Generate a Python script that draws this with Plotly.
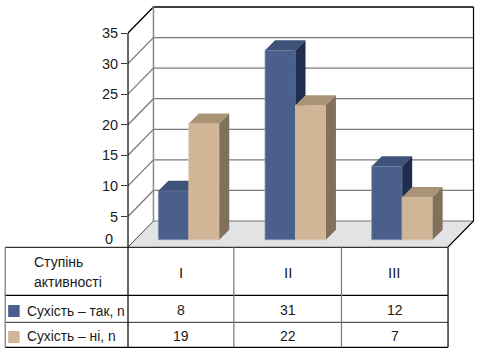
import plotly.graph_objects as go

categories = ["I", "II", "III"]
series_names = ["Сухість – так, n", "Сухість – ні, n"]
yes_values = [8, 31, 12]
no_values = [19, 22, 7]
y_ticks = [0, 5, 10, 15, 20, 25, 30, 35]
row_header = ["Ступінь", "активності"]

W, H = 478, 354
L, R, T, B = 127.5, 448.0, 33.0, 247.0
PLOT_R, PLOT_T = 476.0, 4.0
YMAX = 35
PX = (R - L) / 3
PY = (B - T) / YMAX
XTOP = (PLOT_R - L) / PX
YTOP = (B - PLOT_T) / PY
WALL_X, WALL_Y = 25.5 / PX, 26 / PY
DEPTH_X, DEPTH_Y = 10 / PX, 10 / PY
BAR_W = 30.5 / PX
BASE = 7.3 / PY
SHIFT_X = 7.5 / PX

FONT = "Liberation Sans"
TXT = "#1a1a1a"

def px(v):
    return (v - L) / (PLOT_R - L)

def py(v):
    return (B - v) / (B - PLOT_T)

fig = go.Figure()

def poly(xs, ys, fill, axes=("x", "y"), line=None, width=0):
    fig.add_trace(go.Scatter(
        x=xs, y=ys, mode="lines", fill="toself" if fill else None,
        fillcolor=fill, line=dict(color=line or fill or "rgba(0,0,0,0)", width=width),
        xaxis=axes[0], yaxis=axes[1], hoverinfo="skip", showlegend=False))

# floor
poly([0, 3, 3 + WALL_X, WALL_X, 0], [0, 0, WALL_Y, WALL_Y, 0], "#e2e3e5")

# walls and gridlines
for v in y_ticks:
    if v == 0:
        poly([0, WALL_X], [0, WALL_Y], None, line="#444444", width=1)
        poly([WALL_X, 3 + WALL_X], [WALL_Y, WALL_Y], None, line="#777777", width=1)
    else:
        poly([0, WALL_X, 3 + WALL_X], [v, v + WALL_Y, v + WALL_Y], None,
             line="#000000" if v == 35 else "#7a7a7a", width=1.3)
poly([WALL_X, WALL_X], [WALL_Y, YMAX + WALL_Y], None, line="#8a8a8a", width=1.5)
poly([3 + WALL_X, 3 + WALL_X, 3], [YMAX + WALL_Y, WALL_Y, 0], None, line="#000000", width=1.2)

def add_series(values, offset, front, top, side, axes, edge):
    centers = [i + 0.5 + SHIFT_X + offset * BAR_W for i in range(len(values))]
    fig.add_trace(go.Bar(
        x=centers, y=values, base=BASE, width=BAR_W, xaxis=axes[0], yaxis=axes[1],
        marker=dict(color=front, line=dict(color=edge, width=0.8)),
        hoverinfo="skip", showlegend=False))
    for c, v in zip(centers, values):
        xl, xr, yt, yb = c - BAR_W / 2, c + BAR_W / 2, BASE + v, BASE
        poly([xl, xl + DEPTH_X, xr + DEPTH_X, xr, xl],
             [yt, yt + DEPTH_Y, yt + DEPTH_Y, yt, yt], top, axes)
        poly([xr, xr + DEPTH_X, xr + DEPTH_X, xr, xr],
             [yt, yt + DEPTH_Y, yb + DEPTH_Y, yb, yt], side, axes)

add_series(yes_values, -0.5, "#4a5f8c", "#3f5279", "#1e2d50", ("x2", "y2"), "#7f8fb0")
add_series(no_values, 0.5, "#d1b597", "#aa9478", "#80705c", ("x3", "y3"), "#d8c2aa")

# table geometry
tbl_left = 4.5
tbl_rows = [247.3, 295.3, 322.3, 347.3]
tbl_cols = [L, 233.5, 341.3, R]
shapes = []
def hline(yv, x0, x1, color="#000000", w=1.2):
    shapes.append(dict(type="line", xref="paper", yref="paper", x0=px(x0), x1=px(x1),
                       y0=py(yv), y1=py(yv), line=dict(color=color, width=w)))
def vline(xv, y0, y1, color="#000000", w=1.2):
    shapes.append(dict(type="line", xref="paper", yref="paper", x0=px(xv), x1=px(xv),
                       y0=py(y0), y1=py(y1), line=dict(color=color, width=w)))
vline(L, T, B)  # value axis line
hline(tbl_rows[0], tbl_left, R, "#333333")
hline(tbl_rows[1], tbl_left, R)
hline(tbl_rows[2], tbl_left, R, "#555555")
hline(tbl_rows[3], tbl_left, R)
vline(tbl_left, tbl_rows[0], tbl_rows[3], "#777777")
vline(L, tbl_rows[0], tbl_rows[3])
vline(tbl_cols[1], tbl_rows[0], tbl_rows[3], "#777777")
vline(tbl_cols[2], tbl_rows[0], tbl_rows[3], "#777777")
vline(R, tbl_rows[0], tbl_rows[3])
for y0, col in [(305, "#4a5f8c"), (331, "#d1b597")]:
    shapes.append(dict(type="rect", xref="paper", yref="paper", x0=px(7.5), x1=px(19),
                       y0=py(y0), y1=py(y0 + 12), fillcolor=col, line=dict(width=0)))

def label(text, xv, yv, anchor="center", size=14):
    return dict(text=text, xref="paper", yref="paper", x=px(xv), y=py(yv), xanchor=anchor,
                yanchor="middle", showarrow=False, align="center",
                font=dict(family=FONT, size=size, color=TXT))

ann = [label(row_header[0], 31, 262, "left", 14), label(row_header[1], 31, 282, "left", 14)]
ann.append(label(series_names[0], 24, 311, "left", 13.8))
ann.append(label(series_names[1], 24, 337, "left", 13.8))
centers_px = [(tbl_cols[i] + tbl_cols[i + 1]) / 2 for i in range(3)]
for i, c in enumerate(centers_px):
    ann.append(label(categories[i], c, 272, size=15))
    ann.append(label(str(yes_values[i]), c, 310))
    ann.append(label(str(no_values[i]), c, 336))
ann.append(label(str(y_ticks[0]), 114.5, 239, "right", 14.5))

hidden = dict(visible=False)
fig.update_layout(
    width=W, height=H, autosize=False,
    margin=dict(l=L, r=W - PLOT_R, t=PLOT_T, b=H - B, pad=0),
    paper_bgcolor="white", plot_bgcolor="rgba(0,0,0,0)",
    barmode="overlay", showlegend=False, shapes=shapes, annotations=ann,
    font=dict(family=FONT, size=14.5, color=TXT),
    xaxis=dict(range=[0, XTOP], visible=False, fixedrange=True),
    yaxis=dict(range=[0, YTOP], tickmode="array", tickvals=y_ticks[1:],
               ticktext=[str(v) for v in y_ticks[1:]], ticks="outside", ticklen=6,
               tickcolor="#333333", tickwidth=1, showline=False,
               showgrid=False, zeroline=False, fixedrange=True,
               tickfont=dict(family=FONT, size=14.5, color=TXT)),
    xaxis2=dict(range=[0, XTOP], overlaying="x", anchor="y2", **hidden),
    yaxis2=dict(range=[0, YTOP], overlaying="y", anchor="x2", **hidden),
    xaxis3=dict(range=[0, XTOP], overlaying="x", anchor="y3", **hidden),
    yaxis3=dict(range=[0, YTOP], overlaying="y", anchor="x3", **hidden),
)
fig.write_html("out.html", config=dict(displayModeBar=False, responsive=False),
               post_script="document.body.style.margin='0';document.body.style.overflow='hidden';")
